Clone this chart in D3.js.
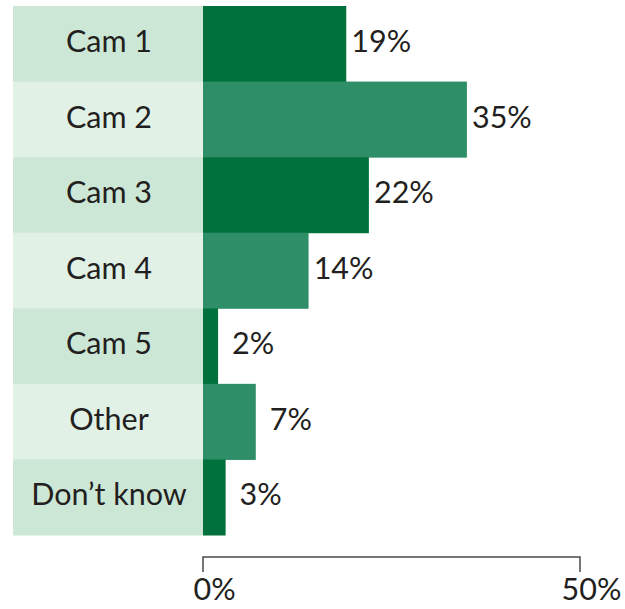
<!DOCTYPE html>
<html><head><meta charset="utf-8">
<script src="https://cdn.jsdelivr.net/npm/d3@7"></script>
<style>html,body{margin:0;padding:0;background:#fff;}svg{display:block;}</style>
</head><body>
<svg id="chart" width="625" height="609"></svg>
<script>
const categories = ["Cam 1","Cam 2","Cam 3","Cam 4","Cam 5","Other","Don\u2019t know"];
const values = [19,35,22,14,2,7,3];
const valueLabels = ["19%","35%","22%","14%","2%","7%","3%"];
const tickValues = [0,50];
const tickLabels = ["0%","50%"];

const svg = d3.select("#chart");
const font = "Lato, 'Noto Sans', sans-serif";
const fs = 30.5;
const textColor = "#231f20";

const x = d3.scaleLinear().domain([0,50]).range([203,580]);
const y = d3.scaleBand().domain(categories).range([6,535]).padding(0);

const panelColors = ["#cde7d6","#e1f1e6"];
const barColors = ["#00703c","#2d8e68"];

// label panel
svg.append("g").selectAll("rect").data(categories).join("rect")
  .attr("x",13).attr("width",203-13)
  .attr("y",d=>y(d)).attr("height",y.bandwidth()+0.5)
  .attr("fill",(d,i)=>panelColors[i%2]);

svg.append("g").selectAll("text").data(categories).join("text")
  .attr("x",(13+203)/2+1).attr("y",d=>y(d)+y.bandwidth()/2)
  .attr("dy","0.27em").attr("text-anchor","middle")
  .attr("font-family",font).attr("font-size",fs).attr("fill",textColor)
  .text(d=>d);

// bars
svg.append("g").selectAll("rect").data(values).join("rect")
  .attr("x",x(0)).attr("width",d=>x(d)-x(0))
  .attr("y",(d,i)=>y(categories[i])).attr("height",y.bandwidth()+0.5)
  .attr("fill",(d,i)=>barColors[i%2]);

// value labels
svg.append("g").selectAll("text").data(values).join("text")
  .attr("x",d=>x(d)+35).attr("y",(d,i)=>y(categories[i])+y.bandwidth()/2)
  .attr("dy","0.27em").attr("text-anchor","middle")
  .attr("font-family",font).attr("font-size",fs).attr("fill",textColor)
  .text((d,i)=>valueLabels[i]);

// axis
const axis = d3.axisBottom(x).tickValues(tickValues).tickSize(-15).tickSizeOuter(0).tickFormat((d,i)=>tickLabels[i]);
const ag = svg.append("g").attr("transform","translate(0,572)").call(axis);
ag.select(".domain").remove();
ag.append("path").attr("d",`M${x(0)},572 L${x(0)},557 L${x(50)},557 L${x(50)},572`)
  .attr("transform","translate(0,-572)")
  .attr("fill","none").attr("stroke","#4a4a4a").attr("stroke-width",1.5);
ag.selectAll(".tick line").remove();
ag.selectAll(".tick text")
  .attr("font-family",font).attr("font-size",fs).attr("fill",textColor)
  .attr("x",11).attr("y",28).attr("dy",0).attr("text-anchor","middle");
</script>
</body></html>
